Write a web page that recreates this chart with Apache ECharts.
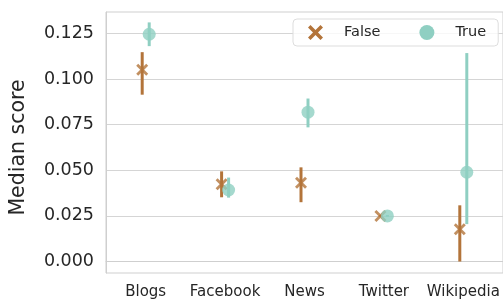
<!DOCTYPE html>
<html>
<head>
<meta charset="utf-8">
<script src="https://cdn.jsdelivr.net/npm/echarts@6/dist/echarts.min.js"></script>
<style>
  html, body { margin: 0; padding: 0; background: #fff; }
  #chart { width: 503px; height: 300px; }
</style>
</head>
<body>
<div id="chart"></div>
<script>
const categories = ['Blogs', 'Facebook', 'News', 'Twitter', 'Wikipedia']
const yTicks = [0, 0.025, 0.05, 0.075, 0.1, 0.125]

// median score per category, with confidence interval
const falseMedian = [0.105, 0.0423, 0.0432, 0.025, 0.0177]
const falseLow = [0.0914, 0.0352, 0.0325, 0.0245, 0.0]
const falseHigh = [0.1147, 0.0494, 0.0516, 0.0255, 0.0308]

const trueMedian = [0.1245, 0.0392, 0.0818, 0.025, 0.0489]
const trueLow = [0.118, 0.035, 0.0735, 0.0245, 0.0205]
const trueHigh = [0.131, 0.046, 0.0893, 0.0255, 0.1142]

const brown = '#b3743a'
const teal = '#8fcfc2'
const crossPath = 'path://M2,0 L6,4 L10,0 L12,2 L8,6 L12,10 L10,12 L6,8 L2,12 L0,10 L4,6 L0,2 Z'
const dodge = 3.5

const errorBar = (offset) => (params, api) => {
  const i = api.value(0)
  const lo = api.coord([i, api.value(1)])
  const hi = api.coord([i, api.value(2)])
  return {
    type: 'line',
    shape: { x1: lo[0] + offset, y1: lo[1], x2: hi[0] + offset, y2: hi[1] },
    style: { stroke: api.visual('color'), lineWidth: 3 }
  }
}

const chart = echarts.init(document.getElementById('chart'), null, { renderer: 'canvas' })

chart.setOption({
  animation: false,
  textStyle: { fontFamily: 'DejaVu Sans' },
  grid: {
    left: 102,
    top: 12,
    width: 402,
    height: 262,
    show: true,
    borderColor: '#cfcfcf',
    borderWidth: 1
  },
  legend: {
    left: 293,
    top: 19,
    padding: [6, 12, 6, 15],
    itemGap: 39,
    itemWidth: 15,
    itemHeight: 15,
    borderColor: '#dddddd',
    borderWidth: 1,
    borderRadius: 4,
    backgroundColor: 'rgba(255,255,255,0.8)',
    textStyle: { fontSize: 14.5, color: '#262626', padding: [0, 0, 0, 16] },
    data: [
      { name: 'False', icon: crossPath, itemStyle: { color: brown } },
      { name: 'True', icon: 'circle', itemStyle: { color: teal } }
    ]
  },
  xAxis: {
    type: 'category',
    data: categories,
    boundaryGap: true,
    axisLine: { show: true, lineStyle: { color: '#cfcfcf' } },
    axisTick: { show: false },
    axisLabel: { interval: 0, fontSize: 15, color: '#262626', margin: 12 },
    splitLine: { show: false }
  },
  yAxis: {
    type: 'value',
    min: -0.00628,
    max: 0.1367,
    name: 'Median score',
    nameLocation: 'middle',
    nameGap: 77,
    nameTextStyle: { fontSize: 20.5, color: '#262626', padding: [0, 10, 0, 0] },
    axisLine: { show: true, lineStyle: { color: '#cfcfcf' } },
    axisTick: { show: false, customValues: yTicks },
    axisLabel: {
      customValues: yTicks,
      fontSize: 17.5,
      color: '#262626',
      margin: 12,
      formatter: (v) => v.toFixed(3)
    },
    splitLine: { show: true, lineStyle: { color: '#d5d5d5', width: 1 } }
  },
  series: [
    {
      type: 'custom',
      name: 'False',
      color: brown,
      renderItem: errorBar(-dodge),
      data: categories.map((c, i) => [i, falseLow[i], falseHigh[i]]),
      z: 2
    },
    {
      type: 'scatter',
      name: 'False',
      color: brown,
      symbol: crossPath,
      symbolSize: 12,
      symbolOffset: [-dodge, 0],
      data: falseMedian,
      z: 3
    },
    {
      type: 'custom',
      name: 'True',
      color: teal,
      renderItem: errorBar(dodge),
      data: categories.map((c, i) => [i, trueLow[i], trueHigh[i]]),
      z: 4
    },
    {
      type: 'scatter',
      name: 'True',
      color: teal,
      symbol: 'circle',
      symbolSize: 13,
      symbolOffset: [dodge, 0],
      data: trueMedian,
      z: 5
    }
  ]
})
</script>
</body>
</html>
